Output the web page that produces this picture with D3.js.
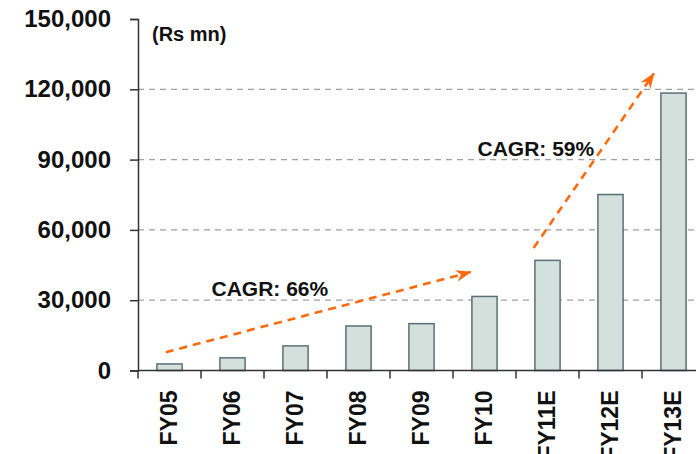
<!DOCTYPE html>
<html>
<head>
<meta charset="utf-8">
<script src="https://cdn.jsdelivr.net/npm/d3@7"></script>
<style>
  html, body { margin: 0; padding: 0; background: #fff; }
  svg { display: block; font-family: "Liberation Sans", Arial, sans-serif; }
</style>
</head>
<body>
<svg id="chart" width="696" height="454"></svg>
<script>
// ---- data ----
const categories = ["FY05", "FY06", "FY07", "FY08", "FY09", "FY10", "FY11E", "FY12E", "FY13E"];
const values = [2800, 5400, 10500, 19000, 20000, 31600, 47000, 75100, 118400];
const yTicks = [0, 30000, 60000, 90000, 120000, 150000];
const unitLabel = "(Rs mn)";
const cagrLabels = ["CAGR: 66%", "CAGR: 59%"];
const cagrLabelAt = [["FY06", 31800], ["FY10", 91500]];
const arrowFrom = [["FY05", 7800], ["FY11E", 52300]];
const arrowTo = [["FY10", 42000], ["FY13E", 126800]];

// ---- layout ----
const W = 696, H = 454;
const mLeft = 138, mTop = 19, mBottom = 370.5;
const step = 63.0;
const mRight = mLeft + step * categories.length;

const svg = d3.select("#chart");

const x = d3.scaleBand().domain(categories).range([mLeft, mRight])
  .paddingInner(0.6).paddingOuter(0.3);
const xc = c => x(c) + x.bandwidth() / 2;
const y = d3.scaleLinear().domain([0, 150000]).range([mBottom, mTop]);

// gridlines
svg.append("g").selectAll("line")
  .data(yTicks.filter(t => t > 0 && t < 150000))
  .join("line")
  .attr("x1", mLeft).attr("x2", W)
  .attr("y1", d => y(d)).attr("y2", d => y(d))
  .attr("stroke", "#a0a0a0").attr("stroke-width", 1.2)
  .attr("stroke-dasharray", "6,5");

// bars
svg.append("g").selectAll("rect")
  .data(categories)
  .join("rect")
  .attr("x", d => x(d))
  .attr("width", x.bandwidth())
  .attr("y", (d, i) => y(values[i]))
  .attr("height", (d, i) => y(0) - y(values[i]))
  .attr("fill", "#d3e0db")
  .attr("stroke", "#5b6f79")
  .attr("stroke-width", 1.5);

// y axis
const yAxis = d3.axisLeft(y).tickValues(yTicks)
  .tickFormat(d3.format(",")).tickSize(8).tickPadding(19);
const gy = svg.append("g").attr("transform", `translate(${mLeft},0)`).call(yAxis);
gy.select(".domain").attr("stroke", "#333").attr("stroke-width", 1.5);
gy.selectAll(".tick line").attr("stroke", "#333").attr("stroke-width", 1.5);
gy.selectAll(".tick text")
  .attr("font-size", 24).attr("font-weight", "bold")
  .attr("font-family", "Liberation Sans, Arial, sans-serif")
  .attr("fill", "#111");

// x axis line and boundary ticks
svg.append("line")
  .attr("x1", mLeft).attr("x2", W)
  .attr("y1", mBottom).attr("y2", mBottom)
  .attr("stroke", "#333").attr("stroke-width", 1.5);
const boundaries = d3.range(categories.length + 1).map(i => mLeft + i * x.step());
svg.append("g").selectAll("line")
  .data(boundaries).join("line")
  .attr("x1", d => d).attr("x2", d => d)
  .attr("y1", mBottom).attr("y2", mBottom + 8)
  .attr("stroke", "#333").attr("stroke-width", 1.5);

// x labels (rotated)
svg.append("g").selectAll("text")
  .data(categories).join("text")
  .attr("transform", d => `translate(${xc(d) + 7},${mBottom + 20}) rotate(-90)`)
  .attr("text-anchor", "end")
  .attr("font-size", 23).attr("font-weight", "bold")
  .attr("fill", "#111")
  .text(d => d);

// unit label
svg.append("text")
  .attr("x", mLeft + 14).attr("y", mTop + 22)
  .attr("font-size", 20).attr("font-weight", "bold")
  .attr("fill", "#111")
  .text(unitLabel);

// arrows
const defs = svg.append("defs");
defs.append("marker")
  .attr("id", "ah")
  .attr("viewBox", "0 0 16 12")
  .attr("refX", 15).attr("refY", 6)
  .attr("markerWidth", 16).attr("markerHeight", 12)
  .attr("markerUnits", "userSpaceOnUse")
  .attr("orient", "auto")
  .append("path")
  .attr("d", "M0,0 L16,6 L0,12 L5,6 Z")
  .attr("fill", "#ff6a0d");

const fromOffsets = [-0.06, -0.22];
const toOffsets = [-0.22, -0.31];
svg.append("g").selectAll("line")
  .data(arrowFrom).join("line")
  .attr("x1", (d, i) => xc(d[0]) + fromOffsets[i] * x.step())
  .attr("y1", d => y(d[1]))
  .attr("x2", (d, i) => xc(arrowTo[i][0]) + toOffsets[i] * x.step())
  .attr("y2", (d, i) => y(arrowTo[i][1]))
  .attr("stroke", "#ff6a0d")
  .attr("stroke-width", 2.6)
  .attr("stroke-dasharray", "8,6")
  .attr("marker-end", "url(#ah)");

// CAGR labels
const labelOffsets = [-21, -7];
svg.append("g").selectAll("text")
  .data(cagrLabels).join("text")
  .attr("x", (d, i) => xc(cagrLabelAt[i][0]) + labelOffsets[i])
  .attr("y", (d, i) => y(cagrLabelAt[i][1]))
  .attr("font-size", 21).attr("font-weight", "bold")
  .attr("fill", "#111")
  .text(d => d);
</script>
</body>
</html>
